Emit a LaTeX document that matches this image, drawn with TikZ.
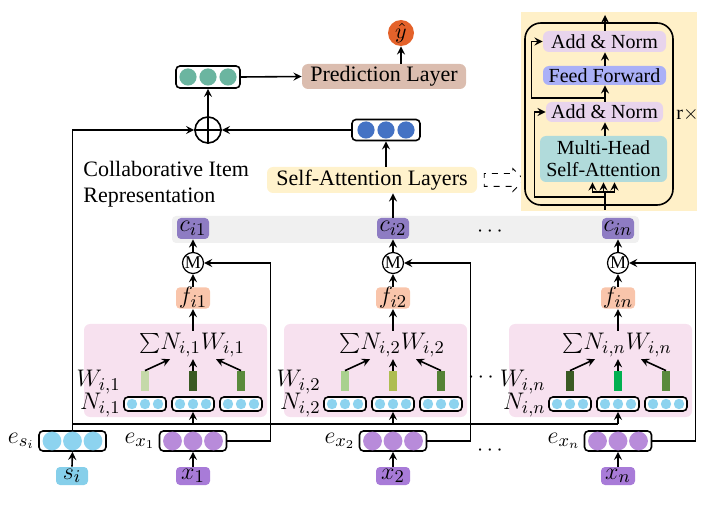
\documentclass[tikz,border=0pt]{standalone}
\usepackage{fontspec}
\setmainfont{Liberation Serif}
\usetikzlibrary{shapes,arrows,positioning,calc}
\definecolor{yhatcolor}{RGB}{228, 98, 42}
\definecolor{predcolor}{RGB}{219, 189, 175}
\definecolor{tealdot}{RGB}{107, 181, 160}
\definecolor{bluedot}{RGB}{68, 114, 196}
\definecolor{sacolor}{RGB}{255, 242, 204}
\definecolor{bandcolor}{RGB}{240, 240, 240}
\definecolor{ccolor}{RGB}{142, 124, 195}
\definecolor{fcolor}{RGB}{249, 197, 171}
\definecolor{panelcolor}{RGB}{247, 225, 239}
\definecolor{skydot}{RGB}{141, 211, 239}
\definecolor{purpledot}{RGB}{184, 139, 218}
\definecolor{xcolor}{RGB}{168, 123, 216}
\definecolor{scolor}{RGB}{134, 207, 234}
\definecolor{tfcolor}{RGB}{255, 240, 200}
\definecolor{ancolor}{RGB}{232, 212, 236}
\definecolor{ffcolor}{RGB}{170, 176, 247}
\definecolor{mhsacolor}{RGB}{177, 219, 219}
\definecolor{wpale}{RGB}{197, 217, 169}
\definecolor{wdark}{RGB}{58, 90, 35}
\definecolor{wmid}{RGB}{90, 138, 60}
\definecolor{wlight}{RGB}{169, 209, 142}
\definecolor{wolive}{RGB}{174, 189, 80}
\definecolor{wgreen}{RGB}{84, 130, 53}
\definecolor{wbright}{RGB}{0, 176, 80}

\begin{document}
\begin{tikzpicture}[
        x=0.5pt, y=-0.5pt,
        font=\fontsize{11}{13}\selectfont,
        arrow/.style={->, >=stealth, thick},
        vecbox/.style={draw, thick, rounded corners=2pt, fill=white, inner sep=0pt},
        tag/.style={rounded corners=2pt, inner sep=0pt, font=\fontsize{12.5}{13}\selectfont},
        layer/.style={rounded corners=3pt, inner sep=0pt},
        tflayer/.style={layer, font=\fontsize{10}{11}\selectfont, align=center},
        merge/.style={circle, draw, semithick, fill=white, minimum size=10.5pt, inner sep=0pt, font=\fontsize{9}{9}\selectfont},
        bar/.style={minimum width=4pt, minimum height=10pt, inner sep=0pt},
        mathlabel/.style={inner sep=0pt, font=\fontsize{12.5}{13}\selectfont}
    ]
        \useasboundingbox (0,0) rectangle (724,508);

        % Output
        \node[circle, fill=yhatcolor, minimum size=13pt, inner sep=0pt] (yhat) at (401,33) {$\hat{y}$};
        \node[layer, fill=predcolor, minimum width=82pt, minimum height=12.5pt] (pred) at (384,76.5) {Prediction Layer};
        \draw[arrow] (pred.north -| yhat) -- (yhat.south);

        % Fused vector
        \node[vecbox, minimum width=32pt, minimum height=11pt] (gvec) at (208,77) {};
        \foreach \d in {-1,0,1}
            \fill[tealdot] ([xshift=\d*10pt]gvec.center) circle (4.3pt);
        \draw[arrow] (gvec.east) -- (pred.west);

        % Sum
        \node[circle, draw, thick, minimum size=13pt, inner sep=0pt] (op) at (208,130) {};
        \draw[thick] (op.north) -- (op.south) (op.west) -- (op.east);
        \draw[arrow] (op.north) -- (gvec.south);

        % Sequence vector
        \node[vecbox, minimum width=34pt, minimum height=10.5pt] (bvec) at (386,130) {};
        \foreach \d in {-1,0,1}
            \fill[bluedot] ([xshift=\d*10pt]bvec.center) circle (4.3pt);
        \draw[arrow] (bvec.west) -- (op.east);

        % Self-attention
        \node[layer, fill=sacolor, minimum width=105pt, minimum height=13pt] (sa) at (372,180) {Self-Attention Layers};
        \draw[arrow] (sa.north -| bvec) -- (bvec.south);
        \node[single arrow, draw, dashed, thin, minimum height=20pt, inner sep=3pt,
              single arrow head extend=2.5pt] (hint) at (501,180) {};

        \node[anchor=west, align=left, inner sep=0pt] (cirlabel) at (83,184) {Collaborative Item\\Representation};

        % Transformer block
        \node[fill=tfcolor, minimum width=88pt, minimum height=99.5pt] (tfbg) at (609,111.5) {};
        \node[draw, thick, rounded corners=8pt, minimum width=74pt, minimum height=91pt] (tfbox) at (599,114) {};
        \node[anchor=west, inner sep=0pt, font=\fontsize{10}{11}\selectfont] (rtimes) at (676,115) {r$\times$};
        \node[tflayer, fill=mhsacolor, minimum width=63.5pt, minimum height=23pt] (mhsa) at (603.5,159) {Multi-Head\\Self-Attention};
        \node[tflayer, fill=ancolor, minimum width=58.5pt, minimum height=10pt] (anlow) at (604.5,112) {Add \& Norm};
        \node[tflayer, fill=ffcolor, minimum width=61.5pt, minimum height=9.5pt] (ff) at (604.5,75.5) {Feed Forward};
        \node[tflayer, fill=ancolor, minimum width=61.5pt, minimum height=10.5pt] (antop) at (604.5,41.5) {Add \& Norm};
        \coordinate (tin) at (605,210);
        \coordinate (split) at (605,192);
        \coordinate (res1) at (605,197);
        \coordinate (res2) at (605,98);
        \coordinate (tout) at (605,15);
        \draw[thick] (tin) -- (split);
        \foreach \d in {-5.5,0,5.5}
            \draw[arrow] (split) -| ([xshift=\d pt]mhsa.south);
        \draw[arrow] (res1) -| ([xshift=-5.5pt]anlow.west) -- (anlow.west);
        \draw[arrow] (mhsa.north -| tin) -- (anlow.south -| tin);
        \draw[arrow] (anlow.north -| tin) -- (ff.south -| tin);
        \draw[arrow] (res2) -| ([xshift=-5.5pt]antop.west) -- (antop.west);
        \draw[arrow] (ff.north -| tin) -- (antop.south -| tin);
        \draw[arrow] (antop.north -| tin) -- (tout);

        % Item representations
        \node[fill=bandcolor, rounded corners=2pt, minimum width=233.5pt, minimum height=13.5pt] (band) at (405.5,229.5) {};
        \node (cdots) at (490,232) {$\cdots$};
        \node (wdots) at (481,378) {$\cdots$};
        \node (edots) at (490,451) {$\cdots$};

        % Target item
        \node[tag, fill=scolor, minimum width=16pt, minimum height=9pt] (si) at (72,476) {$s_i$};
        \node[vecbox, minimum width=33.5pt, minimum height=10pt] (esi) at (72.5,441) {};
        \foreach \d in {-1,0,1}
            \fill[skydot] ([xshift=\d*10.25pt]esi.center) circle (4.7pt);
        \node[mathlabel, left=1.5pt of esi] (esilabel) {$e_{s_i}$};
        \draw[arrow] (si.north) -- (esi.south);
        \draw[arrow] (esi.north) |- (op.west);
        \coordinate (bus) at (72,424);

        % Columns
        \foreach \xc/\k/\wa/\wb/\wc in {193/1/wpale/wdark/wmid, 393/2/wlight/wolive/wgreen, 618/n/wdark/wbright/wmid} {
            \node[layer, fill=panelcolor, minimum width=91.5pt, minimum height=46.5pt] (panel\k) at (\xc-17.5,370.5) {};
            \node[tag, fill=ccolor, minimum width=16pt, minimum height=10.5pt] (c\k) at (\xc,228.5) {$c_{i\k}$};
            \node[merge] (m\k) at (\xc,263) {M};
            \node[tag, fill=fcolor, minimum width=17pt, minimum height=10pt] (f\k) at (\xc,298) {$f_{i\k}$};
            \node[mathlabel, inner sep=1pt] (sum\k) at (\xc-1,345) {${\textstyle\sum}N_{i,\k}W_{i,\k}$};
            \node[bar, fill=\wa] (wl\k) at (\xc-48,381) {};
            \node[bar, fill=\wb] (wm\k) at (\xc,381) {};
            \node[bar, fill=\wc] (wr\k) at (\xc+48,381) {};
            \node[vecbox, minimum width=21pt, minimum height=7pt] (nl\k) at (\xc-48,404) {};
            \node[vecbox, minimum width=21pt, minimum height=7pt] (nm\k) at (\xc,404) {};
            \node[vecbox, minimum width=21pt, minimum height=7pt] (nr\k) at (\xc+48,404) {};
            \foreach \n in {nl\k,nm\k,nr\k}
                \foreach \d in {-1,0,1}
                    \fill[skydot] ([xshift=\d*6.5pt]\n.center) circle (2.6pt);
            \node[mathlabel, anchor=east] (wlabel\k) at (\xc-72,382) {$W_{i,\k}$};
            \node[mathlabel, anchor=east] (nlabel\k) at (\xc-72,405) {$N_{i,\k}$};
            \node[vecbox, minimum width=33.5pt, minimum height=10pt] (ex\k) at (\xc,441) {};
            \foreach \d in {-1,0,1}
                \fill[purpledot] ([xshift=\d*10.25pt]ex\k.center) circle (4.7pt);
            \node[mathlabel, left=1.5pt of ex\k] (exlabel\k) {$e_{x_\k}$};
            \node[tag, fill=xcolor, minimum width=17pt, minimum height=9pt] (x\k) at (\xc,476) {$x_\k$};

            \draw[arrow] (x\k.north) -- (ex\k.south);
            \draw[arrow] (ex\k.east) -- ++(43,0) |- (m\k.east);
            \draw[arrow] (bus -| nm\k.south) -- (nm\k.south);
            \draw[arrow] (wl\k.north) -- ([xshift=-11pt]sum\k.south);
            \draw[arrow] (wm\k.north) -- (sum\k.south -| wm\k);
            \draw[arrow] (wr\k.north) -- ([xshift=12pt]sum\k.south);
            \draw[arrow] (sum\k.north -| f\k) -- (f\k.south);
            \draw[arrow] (f\k.north) -- (m\k.south);
            \draw[arrow] (m\k.north) -- (c\k.south);
        }
        \draw[thick] (bus) -- (bus -| nmn.south);
        \draw[arrow] (c2.north) -- (sa.south -| c2);

    \end{tikzpicture}
\end{document}
